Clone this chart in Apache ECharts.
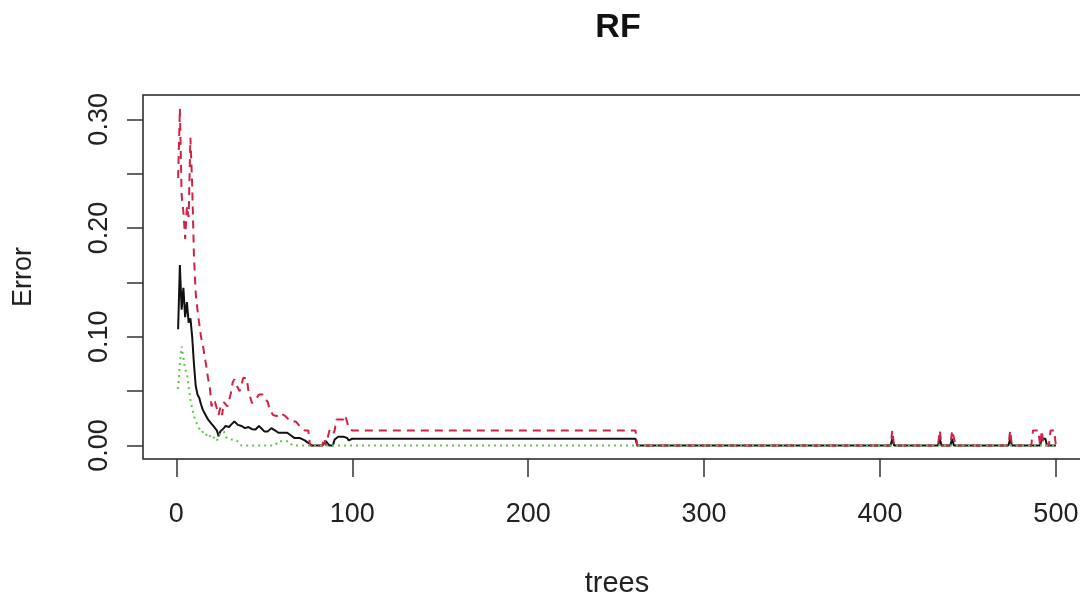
<!DOCTYPE html>
<html>
<head>
<meta charset="utf-8">
<title>RF</title>
<script src="https://cdn.jsdelivr.net/npm/echarts@6/dist/echarts.min.js"></script>
<style>
  html, body { margin: 0; padding: 0; background: #fff; }
  #chart { width: 1080px; height: 596px; }
</style>
</head>
<body>
<div id="chart"></div>
<script>
// OOB error (black, solid)
var oobTrees = [1, 2, 3, 4, 5, 6, 7, 8, 9, 10, 11, 12, 13, 14, 15, 16, 18, 20, 21, 23, 24, 25, 27, 28, 30, 31, 33, 35, 37, 39, 41, 43, 45, 47, 48, 50, 52, 54, 56, 58, 63, 65, 67, 70, 71, 73, 75, 77, 83, 85, 86, 87, 89, 90, 92, 95, 97, 98, 100, 261, 262, 406, 407, 408, 433, 434, 435, 440, 441, 442, 473, 474, 475, 491, 492, 494, 495, 500];
var oobErr = [0.107, 0.166, 0.125, 0.145, 0.118, 0.132, 0.113, 0.117, 0.100, 0.075, 0.055, 0.047, 0.044, 0.038, 0.033, 0.030, 0.024, 0.020, 0.018, 0.014, 0.0085, 0.013, 0.016, 0.018, 0.017, 0.019, 0.022, 0.019, 0.018, 0.016, 0.017, 0.015, 0.0147, 0.018, 0.018, 0.013, 0.013, 0.016, 0.014, 0.0117, 0.0117, 0.0094, 0.007, 0.007, 0.0055, 0.0047, 0.0025, 0, 0, 0.004, 0.004, 0, 0, 0.0055, 0.008, 0.008, 0.007, 0.0047, 0.00625, 0.00625, 0, 0, 0.00625, 0, 0, 0.00625, 0, 0, 0.00625, 0, 0, 0.00625, 0, 0, 0.00625, 0.00625, 0, 0];

// class 1 error (red, dashed)
var redTrees = [1, 2, 3, 4, 5, 6, 7, 8, 9, 10, 11, 12, 13, 14, 15, 16, 17, 18, 19, 20, 21, 22, 24, 25, 26, 27, 29, 30, 31, 32, 33, 34, 36, 38, 40, 41, 43, 45, 47, 49, 50, 52, 53, 55, 57, 59, 60, 62, 65, 68, 70, 73, 75, 76, 83, 84, 85, 87, 89, 90, 91, 95, 96, 97, 98, 100, 261, 262, 406, 407, 408, 433, 434, 435, 440, 441, 442, 443, 473, 474, 475, 486, 487, 490, 491, 492, 493, 496, 497, 499, 500];
var redErr = [0.246, 0.31, 0.23, 0.215, 0.19, 0.22, 0.21, 0.283, 0.24, 0.175, 0.14, 0.125, 0.112, 0.10, 0.093, 0.083, 0.073, 0.062, 0.054, 0.036, 0.042, 0.04, 0.028, 0.035, 0.028, 0.04, 0.036, 0.036, 0.048, 0.058, 0.061, 0.056, 0.05, 0.062, 0.062, 0.05, 0.039, 0.042, 0.047, 0.047, 0.044, 0.04, 0.033, 0.028, 0.027, 0.03, 0.0315, 0.027, 0.022, 0.022, 0.018, 0.0139, 0.0139, 0, 0, 0.007, 0, 0.0139, 0.01, 0.0139, 0.024, 0.024, 0.0278, 0.0278, 0.016, 0.0139, 0.0139, 0, 0, 0.0139, 0, 0, 0.0139, 0, 0, 0.0139, 0.0139, 0, 0, 0.0139, 0, 0, 0.0139, 0.0139, 0, 0.0139, 0, 0, 0.0139, 0.0139, 0];

// class 2 error (green, dotted)
var greenTrees = [1, 2, 3, 4, 5, 6, 7, 8, 9, 10, 11, 12, 14, 16, 18, 20, 23, 24, 25, 27, 28, 30, 33, 36, 37, 56, 58, 64, 66, 500];
var greenErr = [0.052, 0.076, 0.091, 0.081, 0.07, 0.067, 0.054, 0.042, 0.034, 0.027, 0.022, 0.019, 0.012, 0.013, 0.007, 0.01, 0.004, 0.009, 0.011, 0.013, 0.008, 0.0055, 0.0055, 0.003, 0, 0, 0.004, 0.004, 0, 0];

var xTicks = [0, 100, 200, 300, 400, 500];
var yTicks = [0, 0.05, 0.10, 0.15, 0.20, 0.25, 0.30];
var yLabels = [0, 0.10, 0.20, 0.30];

function pairs(xs, ys) {
  return xs.map(function (x, i) { return [x, ys[i]]; });
}

var font = 'Liberation Sans, Arial, Helvetica, sans-serif';
var myChart = echarts.init(document.getElementById('chart'), null, { renderer: 'canvas' });

var option = {
  animation: false,
  backgroundColor: '#fff',
  title: {
    text: 'RF',
    left: 613,
    top: 6,
    textAlign: 'center',
    textStyle: { fontFamily: font, fontSize: 34, fontWeight: 'bold', color: '#111' }
  },
  grid: {
    left: 143,
    right: -11,   // R extends x by 4%, the right edge falls off the picture
    top: 95,
    bottom: 137,
    outerBoundsMode: 'none',
    containLabel: false,
    show: true,
    borderColor: '#222',
    borderWidth: 1.5,
    backgroundColor: 'transparent'
  },
  xAxis: {
    type: 'value',
    min: -18.96,
    max: 519.96,
    name: 'trees',
    nameLocation: 'middle',
    nameGap: 110,
    nameTextStyle: { fontFamily: font, fontSize: 29, color: '#222' },
    axisLine: { show: false, onZero: false },
    splitLine: { show: false },
    axisTick: { show: true, inside: false, length: 18, customValues: xTicks, lineStyle: { color: '#333', width: 1.5 } },
    axisLabel: { customValues: xTicks, margin: 42, fontFamily: font, fontSize: 27, color: '#222' }
  },
  yAxis: {
    type: 'value',
    min: -0.0124,
    max: 0.3224,
    name: 'Error',
    nameLocation: 'middle',
    nameRotate: 90,
    nameGap: 106,
    nameTextStyle: { fontFamily: font, fontSize: 27, color: '#222' },
    axisLine: { show: false, onZero: false },
    splitLine: { show: false },
    axisTick: { show: true, inside: false, length: 16, customValues: yTicks, lineStyle: { color: '#333', width: 1.5 } },
    axisLabel: {
      customValues: yLabels,
      rotate: 90,
      margin: 30,
      fontFamily: font,
      fontSize: 27,
      color: '#222',
      formatter: function (v) { return v.toFixed(2); }
    }
  },
  series: [
    {
      name: 'OOB',
      type: 'line',
      data: pairs(oobTrees, oobErr),
      showSymbol: false,
      lineStyle: { color: '#111', width: 2 },
      z: 2
    },
    {
      name: '1',
      type: 'line',
      data: pairs(redTrees, redErr),
      showSymbol: false,
      lineStyle: { color: '#cf2345', width: 2, type: [8, 6] },
      z: 3
    },
    {
      name: '2',
      type: 'line',
      data: pairs(greenTrees, greenErr),
      showSymbol: false,
      lineStyle: { color: '#5cc94a', width: 2, type: [2, 4] },
      z: 4
    }
  ]
};

myChart.setOption(option);
</script>
</body>
</html>
